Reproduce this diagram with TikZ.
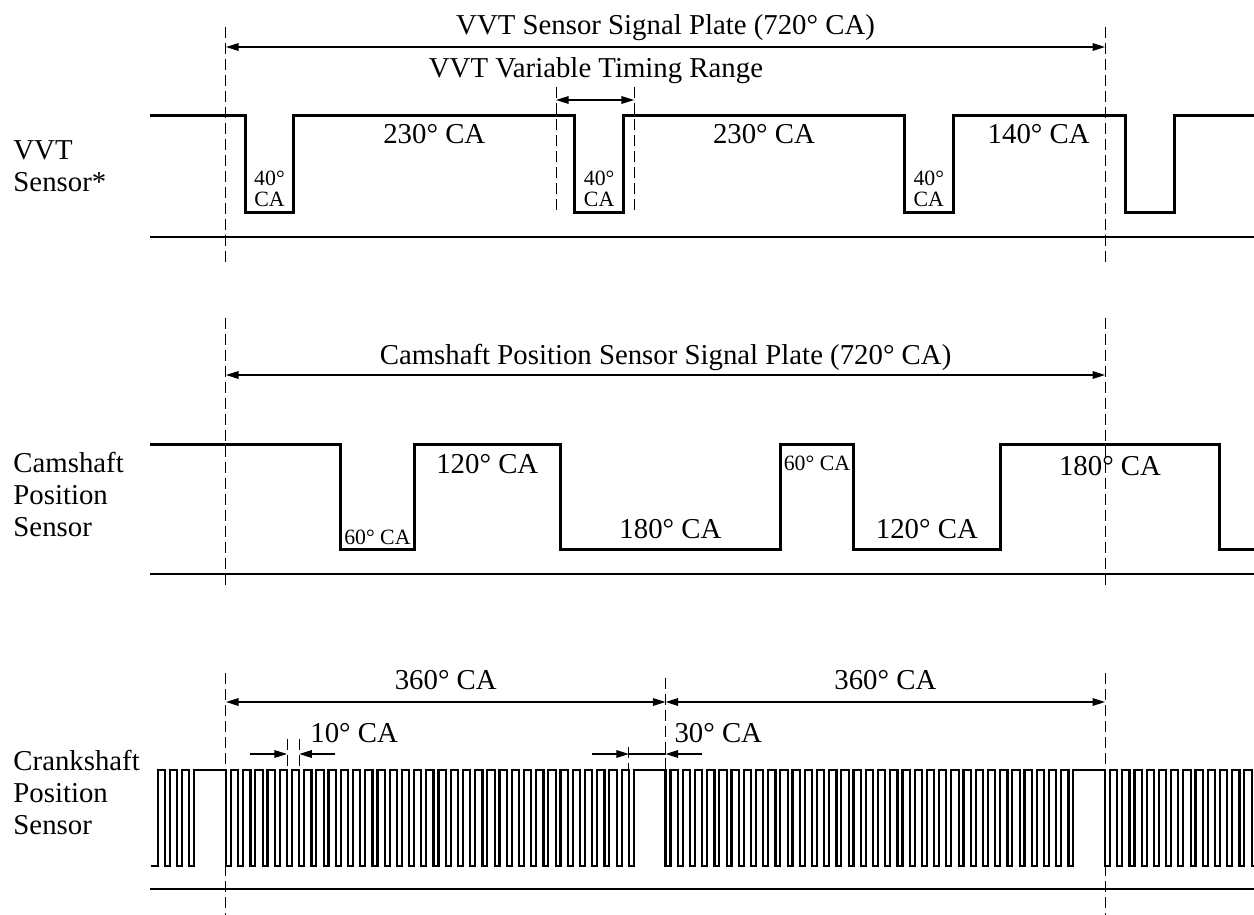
\documentclass[tikz,border=0pt]{standalone}
\usepackage{fontspec}
\setmainfont{Liberation Serif}
\usetikzlibrary{arrows.meta}
\begin{document}
\begin{tikzpicture}[x=0.6105pt, y=-0.5pt, >={Triangle[length=6.3pt,width=3.8pt]},
  wave/.style={line width=1.5pt, line join=miter},
  teeth/.style={line width=1.1pt, line join=miter},
  axisline/.style={line width=0.6pt},
  guide/.style={line width=0.5pt, dash pattern=on 5.5pt off 2.5pt},
  dim/.style={line width=0.65pt},
  bigtxt/.style={font=\fontsize{14.4}{16}\selectfont, inner sep=0pt},
  smalltxt/.style={font=\fontsize{10.9}{10.3}\selectfont, inner sep=0pt, align=center},
  sidelbl/.style={bigtxt, align=left, anchor=north west}]
\useasboundingbox (-185.09,0) rectangle (841.93,915);

% VVT sensor
\node[sidelbl] (vvtlbl) at (-174.4,140.5) {VVT\\Sensor*};
\draw[guide] (0,27) -- (0,263) (720,27) -- (720,263);
\coordinate (vvtA) at (0,47); \coordinate (vvtB) at (720,47);
\draw[dim,<->] (vvtA) -- (vvtB);
\node[bigtxt, anchor=base] (vvttitle) at (360,35) {VVT Sensor Signal Plate (720° CA)};
\node[bigtxt, anchor=base] (vvtrange) at (303,78) {VVT Variable Timing Range};
\draw[guide] (270.3,87) -- (270.3,211) (334.2,87) -- (334.2,211);
\coordinate (rngA) at (270.3,100); \coordinate (rngB) at (334.2,100);
\draw[dim,<->] (rngA) -- (rngB);
\draw[wave] (-62,116) foreach \p in {15.6,285.6,555.6,737} {
  -- (\p,116) -- (\p,213) -- (\p+40,213) -- (\p+40,116)} -- (842,116);
\draw[axisline] (-62,237) -- (842,237);
\node[bigtxt, anchor=base] (vvt1) at (170.6,144) {230° CA};
\node[bigtxt, anchor=base] (vvt2) at (440.6,144) {230° CA};
\node[bigtxt, anchor=base] (vvt3) at (665.6,144) {140° CA};
\foreach \p [count=\i] in {35.6,305.6,575.6}
  \node[smalltxt, anchor=north] (vvtp\i) at (\p,171) {40°\\CA};

% camshaft position sensor
\node[sidelbl] (camlbl) at (-174.4,452) {Camshaft\\Position\\Sensor};
\draw[guide] (0,318) -- (0,590) (720,318) -- (720,590);
\coordinate (camA) at (0,375); \coordinate (camB) at (720,375);
\draw[dim,<->] (camA) -- (camB);
\node[bigtxt, anchor=base] (camtitle) at (360,364) {Camshaft Position Sensor Signal Plate (720° CA)};
\draw[wave] (-62,444) -- (94,444) -- (94,549) -- (154,549) -- (154,444) -- (274,444) -- (274,549)
  -- (454,549) -- (454,444) -- (514,444) -- (514,549) -- (634,549) -- (634,444) -- (814,444)
  -- (814,549) -- (842,549);
\draw[axisline] (-62,574) -- (842,574);
\node[smalltxt, anchor=base] (cam1) at (124,544) {60° CA};
\node[bigtxt, anchor=base] (cam2) at (214,473) {120° CA};
\node[bigtxt, anchor=base] (cam3) at (364,538) {180° CA};
\node[smalltxt, anchor=base] (cam4) at (484,470) {60° CA};
\node[bigtxt, anchor=base] (cam5) at (574,538) {120° CA};
\node[bigtxt, anchor=base] (cam6) at (724,475) {180° CA};

% crankshaft position sensor
\node[sidelbl] (crklbl) at (-174.4,750) {Crankshaft\\Position\\Sensor};
\draw[guide] (0,673) -- (0,915) (720,673) -- (720,915) (360,678) -- (360,770);
\coordinate (crkA) at (0,702); \coordinate (crkM) at (360,702); \coordinate (crkB) at (720,702);
\draw[dim,<->] (crkA) -- (crkM);
\draw[dim,<->] (crkM) -- (crkB);
\node[bigtxt, anchor=base] (crk1) at (180,689) {360° CA};
\node[bigtxt, anchor=base] (crk2) at (540,689) {360° CA};
% 10 and 30 degree marks
\draw[guide] (50,739) -- (50,770) (60,739) -- (60,770) (330,747) -- (330,770);
\coordinate (tenA) at (50,754); \coordinate (tenB) at (60,754);
\coordinate (thrA) at (330,754); \coordinate (thrB) at (360,754);
\draw[dim,->] (19.7,754) -- (tenA);
\draw[dim,->] (89.3,754) -- (tenB);
\draw[dim,->] (299.8,754) -- (thrA);
\draw[dim] (thrA) -- (thrB);
\draw[dim,->] (389.6,754) -- (thrB);
\node[bigtxt, anchor=base west] (crk10) at (68.8,742) {10° CA};
\node[bigtxt, anchor=base west] (crk30) at (367,742) {30° CA};
\draw[teeth] (-61.5,866) -- (-56,866) -- (-56,770)
  foreach \k in {-5,...,-3,0,1,...,33,36,37,...,69,72,73,...,84} {
  -- (\k*10,770) -- (\k*10,866) -- (\k*10+4,866) -- (\k*10+4,770)} ;
\draw[axisline] (-62,889) -- (842,889);
\end{tikzpicture}
\end{document}
